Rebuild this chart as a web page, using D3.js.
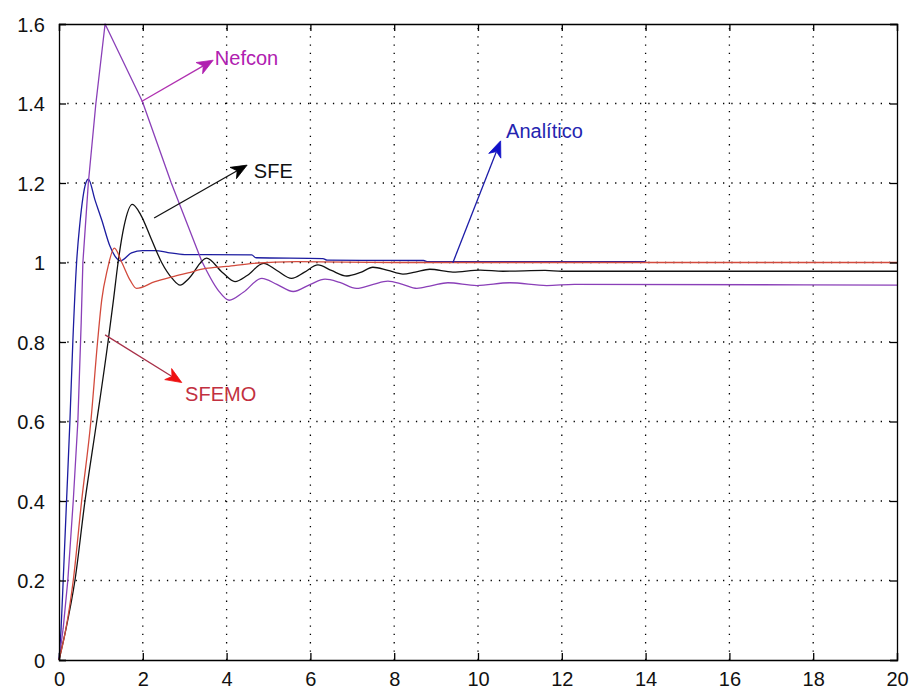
<!DOCTYPE html>
<html>
<head>
<meta charset="utf-8">
<script src="https://cdn.jsdelivr.net/npm/d3@7"></script>
<style>
  html, body { margin: 0; padding: 0; background: #fff; }
  svg { display: block; }
  text { font-family: "Liberation Sans", Arial, Helvetica, sans-serif; }
</style>
</head>
<body>
<svg id="chart" width="911" height="691"></svg>
<script>
// ---- data ----
const xTicks = [0, 2, 4, 6, 8, 10, 12, 14, 16, 18, 20];
const yTicks = [0, 0.2, 0.4, 0.6, 0.8, 1, 1.2, 1.4, 1.6];

const analiticoT = [0, 0.05, 0.1, 0.18, 0.26, 0.33, 0.42, 0.5, 0.64, 0.7, 0.86, 1.02, 1.22, 1.38, 1.46, 1.73, 2.0, 2.3, 2.6, 3.0, 3.5, 4.6, 4.7, 6.3, 6.4, 8.7, 8.8, 14];
const analiticoY = [0, 0.08, 0.2, 0.4, 0.6, 0.8, 1.0, 1.1, 1.2, 1.21, 1.157, 1.107, 1.04, 1.01, 1.004, 1.024, 1.03, 1.03, 1.025, 1.02, 1.02, 1.019, 1.012, 1.01, 1.006, 1.005, 1.002, 1.002];

const nefconT = [0, 0.1, 0.21, 0.34, 0.45, 0.53, 0.57, 0.7, 0.88, 1.1, 1.99, 2.68, 3.4, 3.8, 4.06, 4.4, 4.84, 5.2, 5.59, 6.0, 6.35, 6.7, 7.1, 7.5, 7.85, 8.2, 8.54, 8.9, 9.28, 9.97, 10.76, 11.64, 12.3, 20];
const nefconY = [0, 0.08, 0.2, 0.4, 0.6, 0.85, 1.0, 1.2, 1.4, 1.6, 1.405, 1.2, 1.005, 0.93, 0.905, 0.925, 0.96, 0.945, 0.927, 0.945, 0.958, 0.95, 0.935, 0.945, 0.953, 0.945, 0.935, 0.942, 0.949, 0.942, 0.949, 0.942, 0.945, 0.943];

const sfeT = [0, 0.15, 0.38, 0.62, 0.9, 1.17, 1.3, 1.41, 1.55, 1.75, 1.95, 2.2, 2.45, 2.7, 2.89, 3.1, 3.52, 3.9, 4.2, 4.5, 4.88, 5.2, 5.55, 5.85, 6.18, 6.5, 6.87, 7.2, 7.49, 7.85, 8.21, 8.5, 8.85, 9.4, 10.05, 10.6, 11.6, 12, 20];
const sfeY = [0, 0.07, 0.2, 0.4, 0.6, 0.8, 0.906, 1.0, 1.09, 1.146, 1.12, 1.06, 1.0, 0.96, 0.943, 0.96, 1.011, 0.975, 0.952, 0.968, 0.998, 0.98, 0.96, 0.975, 0.994, 0.98, 0.966, 0.975, 0.988, 0.98, 0.971, 0.976, 0.983, 0.976, 0.981, 0.978, 0.98, 0.978, 0.978];

const sfemoT = [0, 0.15, 0.34, 0.54, 0.76, 0.92, 1.02, 1.15, 1.32, 1.5, 1.7, 1.85, 2.29, 2.7, 3.08, 3.5, 4.0, 4.64, 5.67, 8, 20];
const sfemoY = [0, 0.07, 0.2, 0.4, 0.6, 0.8, 0.906, 0.98, 1.036, 1.0, 0.955, 0.935, 0.952, 0.964, 0.974, 0.985, 0.99, 0.998, 1.002, 1.0, 1.0];

// annotations (data coordinates): arrow start, arrow tip, label position
const annNames = ["Nefcon", "SFE", "Analítico", "SFEMO"];
const annFrom = [[1.97, 1.405], [2.27, 1.112], [9.40, 0.9995], [1.10, 0.818]];
const annTo = [[3.68, 1.509], [4.49, 1.245], [10.54, 1.306], [2.93, 0.698]];
const annText = [[3.72, 1.497], [4.65, 1.213], [10.67, 1.313], [3.01, 0.652]];

// ---- styles ----
// sharpUntil: index up to which the series is drawn with straight segments (sharp peak)
const seriesStyle = [
  { t: analiticoT, y: analiticoY, color: "#1c1ca0", sharpUntil: 0 },
  { t: nefconT, y: nefconY, color: "#8a3fb8", sharpUntil: 12 },
  { t: sfeT, y: sfeY, color: "#111111", sharpUntil: 0 },
  { t: sfemoT, y: sfemoY, color: "#d24a3c", sharpUntil: 0 }
];
const annStyle = [
  { line: "#b030b0", head: "#b020b0", text: "#b020b0" },
  { line: "#111111", head: "#000000", text: "#111111" },
  { line: "#1c1ca8", head: "#1010c8", text: "#2424b0" },
  { line: "#a83048", head: "#ee1010", text: "#c23040" }
];

const svg = d3.select("#chart");
const L = 59, R = 897, T = 24, B = 660;
const x = d3.scaleLinear().domain([0, 20]).range([L, R]);
const y = d3.scaleLinear().domain([0, 1.6]).range([B, T]);

// grid
const grid = svg.append("g");
xTicks.filter(v => v > 0 && v < 20).forEach(v => {
  grid.append("line").attr("x1", x(v)).attr("x2", x(v)).attr("y1", B).attr("y2", T)
    .attr("stroke", "#000").attr("stroke-width", 1.3).attr("stroke-dasharray", "1.3,7");
});
yTicks.filter(v => v > 0 && v < 1.6).forEach(v => {
  grid.append("line").attr("x1", L).attr("x2", R).attr("y1", y(v)).attr("y2", y(v))
    .attr("stroke", "#000").attr("stroke-width", 1.3).attr("stroke-dasharray", "1.3,7");
});

// series
const lineLin = d3.line().x(d => x(d[0])).y(d => y(d[1]));
const lineSmooth = d3.line().x(d => x(d[0])).y(d => y(d[1])).curve(d3.curveMonotoneX);
seriesStyle.forEach(s => {
  const pts = s.t.map((t, i) => [t, s.y[i]]);
  const parts = [];
  if (s.sharpUntil > 0) {
    parts.push(lineLin(pts.slice(0, s.sharpUntil + 1)));
    parts.push(lineSmooth(pts.slice(s.sharpUntil)));
  } else {
    parts.push(lineSmooth(pts));
  }
  parts.forEach(d => svg.append("path").attr("d", d).attr("fill", "none")
    .attr("stroke", s.color).attr("stroke-width", 1.3).attr("stroke-linejoin", "round"));
});

// axes: frame + ticks on all sides
const axB = d3.axisBottom(x).tickValues(xTicks).tickSize(-7).tickPadding(12).tickFormat(d3.format("~g"));
const axL = d3.axisLeft(y).tickValues(yTicks).tickSize(-7).tickPadding(14).tickFormat(d3.format("~g"));
const axT = d3.axisTop(x).tickValues(xTicks).tickSize(-7).tickFormat("");
const axR = d3.axisRight(y).tickValues(yTicks).tickSize(-7).tickFormat("");
const gB = svg.append("g").attr("transform", `translate(0,${B})`).call(axB);
const gL = svg.append("g").attr("transform", `translate(${L},0)`).call(axL);
const gT = svg.append("g").attr("transform", `translate(0,${T})`).call(axT);
const gR = svg.append("g").attr("transform", `translate(${R},0)`).call(axR);
[gB, gL, gT, gR].forEach(g => {
  g.select(".domain").attr("stroke", "#000").attr("stroke-width", 1.3);
  g.selectAll(".tick line").attr("stroke", "#000").attr("stroke-width", 1.3);
  g.selectAll("text").attr("fill", "#111").attr("font-size", 20)
    .attr("font-family", "\"Liberation Sans\", Arial, sans-serif");
});
gL.selectAll("text").attr("dy", "0.36em");

// annotations
annNames.forEach((name, i) => {
  const st = annStyle[i];
  const x1 = x(annFrom[i][0]), y1 = y(annFrom[i][1]);
  const x2 = x(annTo[i][0]), y2 = y(annTo[i][1]);
  const ang = Math.atan2(y2 - y1, x2 - x1);
  const len = 16, hw = 6.5, notch = 4.5;
  const ux = Math.cos(ang), uy = Math.sin(ang);
  const px = -uy, py = ux;
  const bx = x2 - ux * len, by = y2 - uy * len;
  const nx = x2 - ux * (len - notch), ny = y2 - uy * (len - notch);
  svg.append("line").attr("x1", x1).attr("y1", y1).attr("x2", nx).attr("y2", ny)
    .attr("stroke", st.line).attr("stroke-width", 1.3);
  const head = [[x2, y2], [bx + px * hw, by + py * hw], [nx, ny], [bx - px * hw, by - py * hw]];
  svg.append("path").attr("d", "M" + head.map(p => p.join(",")).join("L") + "Z")
    .attr("fill", st.head).attr("stroke", st.head).attr("stroke-width", 0.8);
  svg.append("text").attr("x", x(annText[i][0])).attr("y", y(annText[i][1]))
    .attr("font-size", 20).attr("fill", st.text).text(name);
});
</script>
</body>
</html>
